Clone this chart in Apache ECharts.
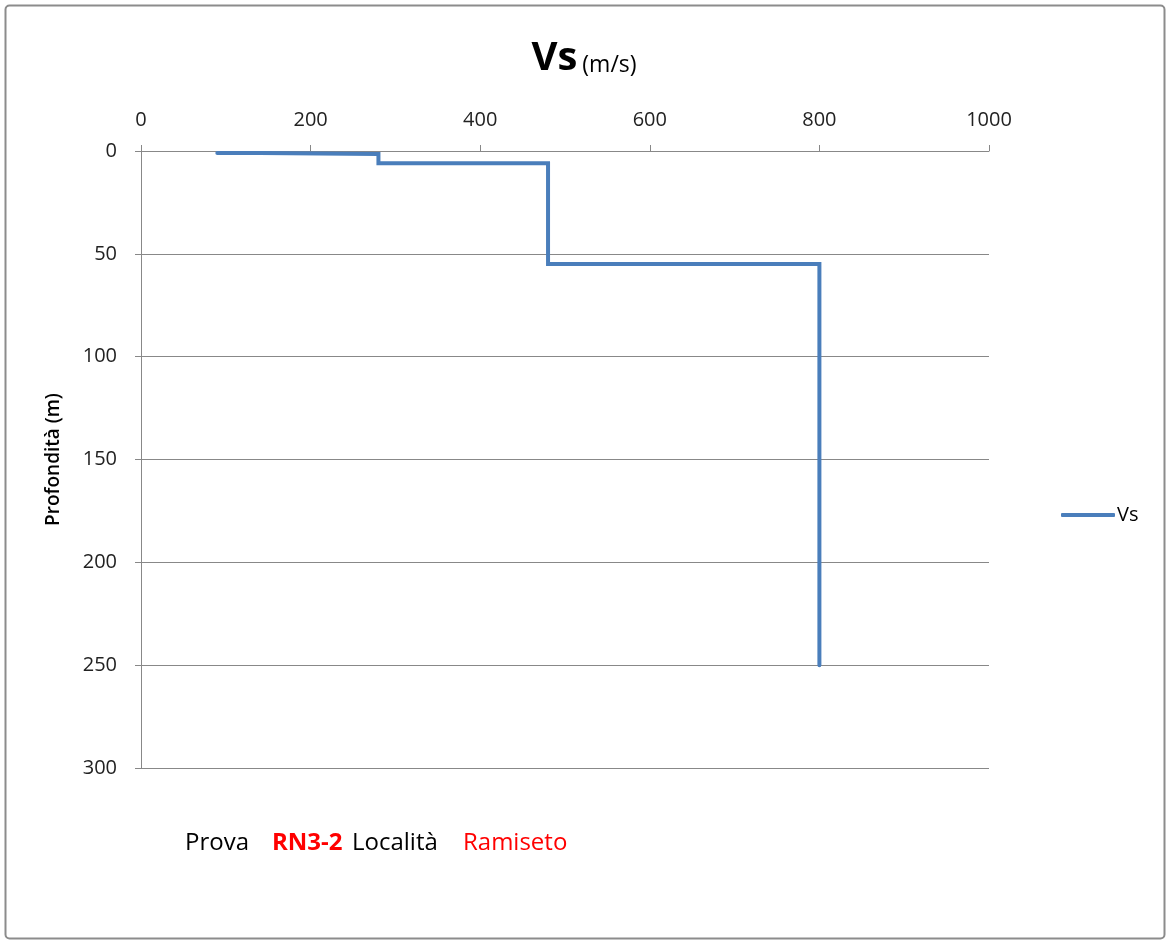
<!DOCTYPE html>
<html>
<head>
<meta charset="utf-8">
<script src="https://cdn.jsdelivr.net/npm/echarts@6/dist/echarts.min.js"></script>
<style>html,body{margin:0;padding:0;background:#fff}#c{width:1168px;height:940px}</style>
</head>
<body>
<div id="c"></div>
<script>
// Step profile of Vs vs depth
const vsValues = [90, 140, 140, 280, 280, 480, 480, 800, 800];
const depthValues = [1, 1, 1.5, 1.5, 6, 6, 55, 55, 250];
const xTicks = [0, 200, 400, 600, 800, 1000];
const yTicks = [0, 50, 100, 150, 200, 250, 300];
const seriesName = 'Vs';

const FONT = '"Open Sans", sans-serif';
const chart = echarts.init(document.getElementById('c'));
chart.setOption({
  backgroundColor: '#fff',
  animation: false,
  title: {
    text: '{a|Vs} {b|(m/s)}',
    left: 'center',
    top: 34,
    textStyle: {
      fontWeight: 'normal',
      rich: {
        a: {fontSize: 40, fontWeight: 'bold', color: '#000', fontFamily: FONT},
        b: {fontSize: 23, fontWeight: 'normal', color: '#000', fontFamily: FONT, padding: [12, 0, 0, 0]}
      }
    }
  },
  legend: {
    orient: 'vertical',
    left: 1056,
    top: 500,
    itemWidth: 54,
    itemHeight: 4,
    icon: 'roundRect',
    itemGap: 6,
    textStyle: {fontSize: 20, color: '#000', fontFamily: FONT, padding: [0, 0, 0, -3]},
    data: [seriesName]
  },
  grid: {left: 141, right: 179, top: 151, bottom: 172, containLabel: false},
  xAxis: {
    type: 'value',
    position: 'top',
    min: xTicks[0],
    max: xTicks[xTicks.length - 1],
    interval: 200,
    axisLine: {show: true, onZero: false, lineStyle: {color: '#888', width: 1}},
    axisTick: {show: true, inside: false, length: 6, lineStyle: {color: '#888'}},
    axisLabel: {fontSize: 20, color: '#222', fontFamily: FONT, margin: 21, formatter: v => String(v)},
    splitLine: {show: false}
  },
  yAxis: {
    type: 'value',
    inverse: true,
    min: yTicks[0],
    max: yTicks[yTicks.length - 1],
    interval: 50,
    name: 'Profondità (m)',
    nameLocation: 'middle',
    nameGap: 78,
    nameRotate: 90,
    nameTextStyle: {fontSize: 19, fontWeight: 600, color: '#000', fontFamily: FONT},
    axisLine: {show: true, onZero: false, lineStyle: {color: '#888', width: 1}},
    axisTick: {show: true, inside: false, length: 6, lineStyle: {color: '#888'}},
    axisLabel: {fontSize: 20, color: '#222', fontFamily: FONT, margin: 24},
    splitLine: {show: true, lineStyle: {color: '#888', width: 1}}
  },
  series: [{
    name: seriesName,
    type: 'line',
    showSymbol: false,
    symbol: 'none',
    clip: false,
    lineStyle: {color: '#4a7ebb', width: 4, cap: 'round', join: 'miter'},
    itemStyle: {color: '#4a7ebb'},
    data: vsValues.map((v, i) => [v, depthValues[i]])
  }],
  graphic: [
    {type: 'rect', left: 3, top: 3, shape: {width: 1159, height: 933, r: 4}, style: {fill: 'none', stroke: '#8c8c8c', lineWidth: 2}, z: -1},
    {type: 'text', left: 185, top: 831, style: {text: 'Prova', fill: '#000', fontSize: 24, fontFamily: FONT}},
    {type: 'text', left: 272, top: 831, style: {text: 'RN3-2', fill: '#ff0000', fontSize: 24, fontWeight: 'bold', fontFamily: FONT}},
    {type: 'text', left: 352, top: 831, style: {text: 'Località', fill: '#000', fontSize: 24, fontFamily: FONT}},
    {type: 'text', left: 463, top: 831, style: {text: 'Ramiseto', fill: '#ff0000', fontSize: 24, fontFamily: FONT}}
  ]
});
</script>
</body>
</html>
